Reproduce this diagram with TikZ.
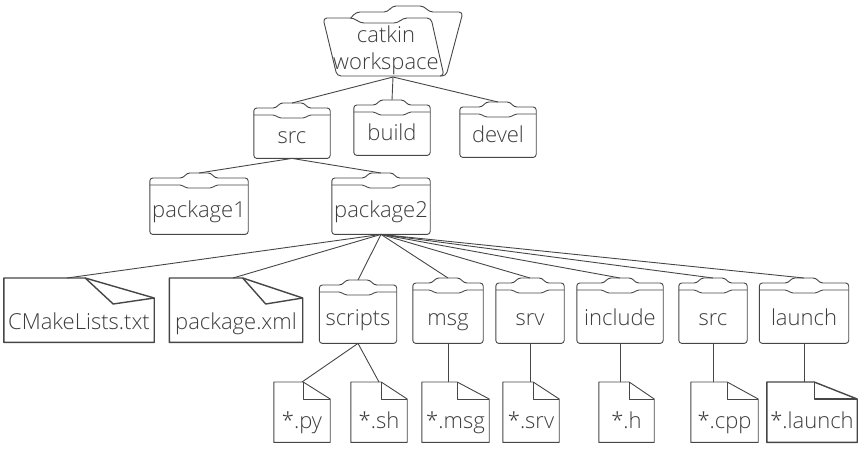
\documentclass[tikz,border=0pt]{standalone}
\usepackage{fontspec}
\setmainfont{Open Sans Light}
\usepackage{xcolor}
\usetikzlibrary{positioning}
\definecolor{labelgray}{RGB}{60,60,60}
\definecolor{linegray}{RGB}{70,70,70}
\tikzset{
  outline/.style={draw=linegray, line width=0.9pt, line join=round},
  link/.style={draw=linegray, line width=0.9pt},
  entry/.style={anchor=north, inner sep=0pt, text=labelgray, font=\fontsize{22}{27}\selectfont},
  % folder with a tab, the node spans tab top to bottom edge
  folder/.style={entry, append after command={\pgfextra{
    \draw[outline, rounded corners=3pt]
      ([yshift=-5pt]\tikzlastnode.north west)
        -- ([xshift=-16pt,yshift=-5pt]\tikzlastnode.north)
        -- ([xshift=-12pt]\tikzlastnode.north)
        -- ([xshift=12pt]\tikzlastnode.north)
        -- ([xshift=16pt,yshift=-5pt]\tikzlastnode.north)
        -- ([yshift=-5pt]\tikzlastnode.north east)
        -- (\tikzlastnode.south east) -- (\tikzlastnode.south west) -- cycle;
    \draw[outline, rounded corners=2pt]
      ([yshift=-12pt]\tikzlastnode.north west)
        -- ([xshift=-17pt,yshift=-12pt]\tikzlastnode.north)
        -- ([xshift=-13pt,yshift=-15pt]\tikzlastnode.north)
        -- ([xshift=13pt,yshift=-15pt]\tikzlastnode.north)
        -- ([xshift=17pt,yshift=-12pt]\tikzlastnode.north)
        -- ([yshift=-12pt]\tikzlastnode.north east);
  }}},
  shortfolder/.style={folder, text height=40pt, text depth=15pt},
  midfolder/.style={folder, text height=44pt, text depth=17pt},
  tallfolder/.style={folder, text height=47pt, text depth=18pt},
  % sheet with a plain folded corner, fold width and line width
  foldsheet/.style 2 args={entry, text height=46pt, text depth=14pt, append after command={\pgfextra{
    \draw[outline, line width=#2]
      (\tikzlastnode.north west) -- ([xshift=-#1]\tikzlastnode.north east)
        -- ([yshift=-17pt]\tikzlastnode.north east)
        -- (\tikzlastnode.south east) -- (\tikzlastnode.south west) -- cycle;
    \draw[outline, line width=#2]
      ([xshift=-#1]\tikzlastnode.north east) -- ([xshift=-#1,yshift=-17pt]\tikzlastnode.north east)
        -- ([yshift=-17pt]\tikzlastnode.north east);
  }}},
  sheet/.style={foldsheet={#1}{0.9pt}},
  heavysheet/.style={foldsheet={#1}{1.4pt}},
  % wide sheet with a curled corner
  curlsheet/.style 2 args={entry, text height=51pt, text depth=13pt, append after command={\pgfextra{
    \draw[outline, line width=1.4pt]
      (\tikzlastnode.north west) -- ([xshift=-#1]\tikzlastnode.north east)
        -- ([yshift=-20pt]\tikzlastnode.north east)
        -- (\tikzlastnode.south east) -- (\tikzlastnode.south west) -- cycle;
    \draw[outline, line width=1.4pt]
      ([xshift=-#1]\tikzlastnode.north east) -- ([xshift=-#2,yshift=-26pt]\tikzlastnode.north east)
        -- ([yshift=-20pt]\tikzlastnode.north east);
  }}},
}
\begin{document}
\begin{tikzpicture}[x=1pt, y=-1pt]
  \useasboundingbox (0,0) rectangle (859,448);
  % top folder, drawn open
  \draw[outline, rounded corners=4pt]
    (350,19) -- (356,12) -- (388,12) -- (392,6) -- (424,6) -- (429,12) -- (463,12)
    -- (446,76) -- (440,76);
  \draw[outline, fill=white, rounded corners=4pt]
    (323,18) -- (354,18) -- (360,23) -- (398,23) -- (403,18) -- (431,18)
    -- (444,76) -- (337,76) -- cycle;
  \node[entry, anchor=south, align=center] (catkin) at (386,75)
    {catkin\\workspace};
  \coordinate (catkinhub) at (393,77);

  \node[shortfolder, minimum width=76pt] (src) at (292,103) {src};
  \node[shortfolder, minimum width=76pt] (build) at (392,100) {build};
  \node[shortfolder, minimum width=76pt] (devel) at (498,102) {devel};

  \node[midfolder, minimum width=98pt] (package1) at (199,173) {package1};
  \node[midfolder, minimum width=98pt] (package2) at (381,173) {package2};

  \node[curlsheet={69pt}{41pt}, minimum width=150pt] (cmake) at (79,278) {CMakeLists.txt};
  \node[curlsheet={60pt}{37pt}, minimum width=133pt] (xml) at (236,278) {package.xml};

  \node[tallfolder, text height=45pt, minimum width=77pt] (scripts) at (358,280) {scripts};
  \node[tallfolder, minimum width=70pt] (msg) at (448,278) {msg};
  \node[tallfolder, minimum width=68pt] (srv) at (530,278) {srv};
  \node[tallfolder, minimum width=86pt] (include) at (620,278) {include};
  \node[tallfolder, minimum width=68pt] (srcdir) at (713,278) {src};
  \node[tallfolder, minimum width=89pt] (launch) at (804,278) {launch};

  \node[sheet=27pt, minimum width=56pt] (py) at (302,382) {*.py};
  \node[sheet=26pt, minimum width=56pt] (sh) at (379,382) {*.sh};
  \node[sheet=32pt, minimum width=67pt] (msgfile) at (455.5,382) {*.msg};
  \node[sheet=26pt, minimum width=56pt] (srvfile) at (531,382) {*.srv};
  \node[sheet=25pt, minimum width=55pt] (hfile) at (626.5,382) {*.h};
  \node[sheet=31pt, minimum width=67pt] (cpp) at (724.5,382) {*.cpp};
  \node[heavysheet=43pt, minimum width=90pt] (launchfile) at (812,382) {*.launch};

  \draw[link] (catkinhub) -- (src.north);
  \draw[link] (catkinhub) -- (build.north);
  \draw[link] (catkinhub) -- (devel.north);
  \draw[link] (src.south) -- (package1.north);
  \draw[link] (src.south) -- (package2.north);
  \draw[link] (package2.south) -- ([xshift=-12pt]cmake.north);
  \draw[link] (package2.south) -- ([xshift=-3pt]xml.north);
  \foreach \folderdir in {scripts, msg, srv, include, srcdir, launch}
    \draw[link] (package2.south) -- (\folderdir.north);
  \draw[link] (scripts.south) -- (py.north);
  \draw[link] (scripts.south) -- (sh.north);
  \draw[link] (msg.south) -- (msg.south |- msgfile.north);
  \draw[link] (srv.south) -- (srv.south |- srvfile.north);
  \draw[link] (include.south) -- (include.south |- hfile.north);
  \draw[link] (srcdir.south) -- (srcdir.south |- cpp.north);
  \draw[link] (launch.south) -- (launch.south |- launchfile.north);
\end{tikzpicture}
\end{document}
